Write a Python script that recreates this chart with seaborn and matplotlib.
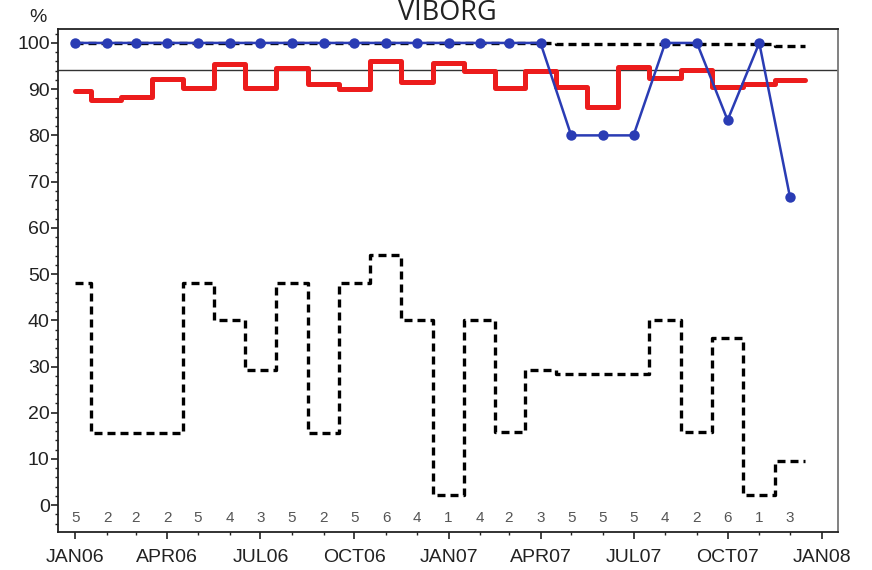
import numpy as np
import pandas as pd
import matplotlib
matplotlib.use("Agg")
import matplotlib.pyplot as plt
import matplotlib.dates as mdates
import matplotlib.ticker as mticker
import seaborn as sns

# monthly values, Jan 2006 - Dec 2007
months = pd.date_range("2006-01-01", "2007-12-01", freq="MS")
red_pct = [89.5, 87.6, 88.4, 92.3, 90.3, 95.5, 90.2, 94.5, 91.1, 90.0, 96.2, 91.6,
           95.6, 94.0, 90.2, 94.0, 90.5, 86.1, 94.7, 92.5, 94.1, 90.4, 91.1, 92.0]
blue_pct = [100, 100, 100, 100, 100, 100, 100, 100, 100, 100, 100, 100,
            100, 100, 100, 100, 80, 80, 80, 100, 100, 83.3, 100, 66.7]
top_dash = [100, 100, 100, 100, 100, 100, 100, 100, 100, 100, 100, 100,
            100, 100, 100, 100, 99.7, 99.7, 99.7, 99.7, 99.7, 99.7, 99.7, 99.3]
low_dash = [48, 15.7, 15.7, 15.7, 48, 40, 29.2, 48, 15.7, 48, 54.1, 40,
            2.3, 40, 15.8, 29.2, 28.4, 28.4, 28.4, 40, 15.8, 36.1, 2.3, 9.5]
counts = [5, 2, 2, 2, 5, 4, 3, 5, 2, 5, 6, 4, 1, 4, 2, 3, 5, 5, 5, 4, 2, 6, 1, 3]
ref_line = 94.2
title = "VIBORG"

sns.set_style("ticks")
plt.rcParams['font.family'] = ['Liberation Sans', 'DejaVu Sans']

fig = plt.figure(figsize=(8.72, 5.70), dpi=100)
ax = fig.add_axes([0.0665, 0.0667, 0.8945, 0.8823])

# step series get their last level carried half a month further
ext = list(months) + [months[-1] + pd.Timedelta(days=15)]
def stepframe(vals):
    return pd.DataFrame({"date": ext, "val": list(vals) + [vals[-1]]})

dash = (0, (2.4, 1.5))
ax.axhline(ref_line, color="#333333", lw=1.0, zorder=1)
sns.lineplot(data=stepframe(low_dash), x="date", y="val", ax=ax, color="black",
             lw=2.4, linestyle=dash, drawstyle="steps-mid", zorder=2)
sns.lineplot(data=stepframe(top_dash), x="date", y="val", ax=ax, color="black",
             lw=2.4, linestyle=dash, drawstyle="steps-mid", zorder=2)
sns.lineplot(data=stepframe(red_pct), x="date", y="val", ax=ax, color="#ec1c1c",
             lw=3.6, drawstyle="steps-mid", zorder=3)
sns.lineplot(x=months, y=blue_pct, ax=ax, color="#2a3cb4", lw=1.8,
             marker="o", markersize=7.5, markeredgewidth=0, zorder=4)

for d, c in zip(months, counts):
    ax.text(d, -2.8, str(c), ha="center", va="center", fontsize=11, color="#555555")

ax.set_xlim(pd.Timestamp("2005-12-15"), pd.Timestamp("2008-01-17"))
ax.set_ylim(-5.8, 103)
ax.yaxis.set_major_locator(mticker.MultipleLocator(10))
ax.yaxis.set_minor_locator(mticker.MultipleLocator(2))
ax.xaxis.set_major_locator(mdates.MonthLocator(bymonth=[1, 4, 7, 10]))
ax.xaxis.set_minor_locator(mdates.MonthLocator())
ax.xaxis.set_major_formatter(mticker.FuncFormatter(
    lambda v, p: mdates.num2date(v).strftime("%b%y").upper()))
ax.set_xlabel("")
ax.set_ylabel("")
ax.tick_params(axis="both", which="major", length=5, width=1.2, labelsize=14,
               color="#222222", labelcolor="#222222")
ax.tick_params(axis="both", which="minor", length=2.5, width=1.0, color="#222222")
ax.tick_params(axis="y", pad=1)
ax.tick_params(axis="x", pad=7)
for s in ["left", "bottom", "top"]:
    ax.spines[s].set_color("#222222")
    ax.spines[s].set_linewidth(1.3)
ax.spines["right"].set_color("#777777")
ax.spines["right"].set_linewidth(1.3)

fig.text(38 / 872, 1 - 17 / 570, "%", ha="center", va="center", fontsize=14,
         color="#222222")
fig.text(447 / 872, 1 - 13 / 570, title, ha="center", va="center", fontsize=19.5,
         family=["Open Sans", "DejaVu Sans"], color="#222222")

fig.savefig("out.png", dpi=100)
